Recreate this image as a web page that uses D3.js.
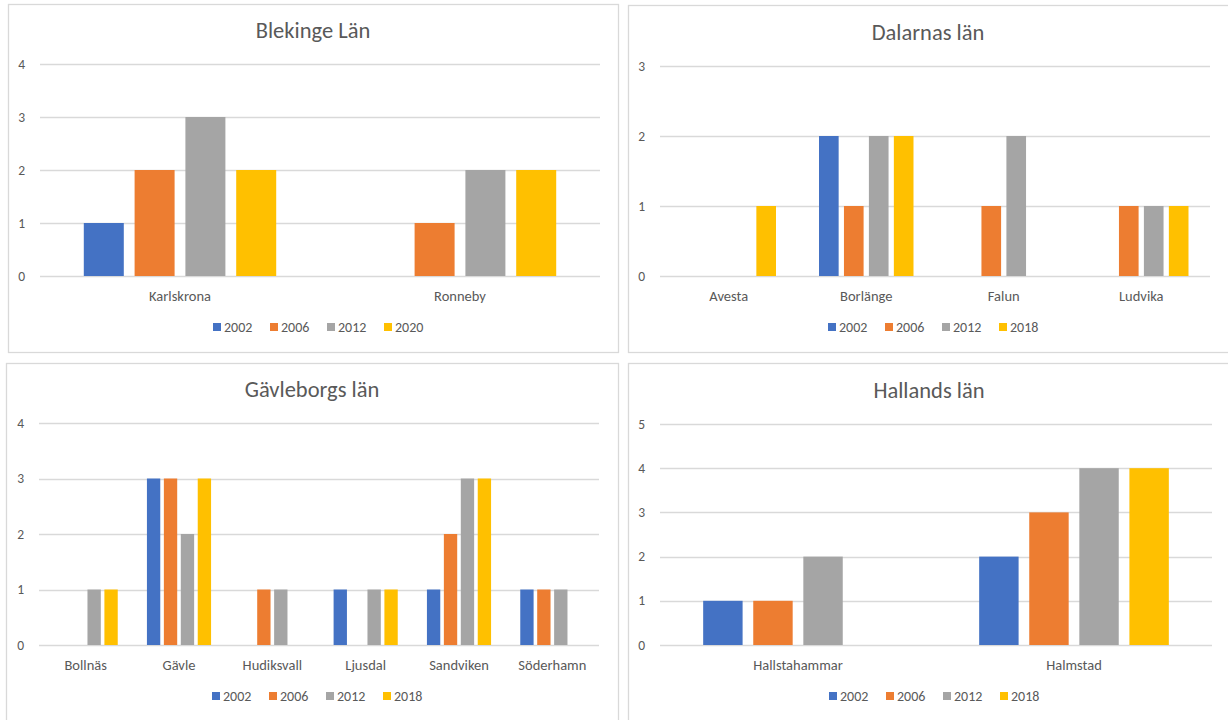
<!DOCTYPE html>
<html>
<head>
<meta charset="utf-8">
<script src="https://cdn.jsdelivr.net/npm/d3@7"></script>
<style>
  body { margin: 0; background: #fff; }
  svg { display: block; font-family: Carlito, Lato, "Open Sans", sans-serif; }
</style>
</head>
<body>
<svg id="chart" width="1228" height="720"></svg>
<script>
// colours used by every panel
var seriesColors = ["#4472C4", "#ED7D31", "#A5A5A5", "#FFC000"];

// Blekinge
var blekingeCities = ["Karlskrona", "Ronneby"];
var blekingeYears = ["2002", "2006", "2012", "2020"];
var blekingeValues = [[1, 2, 3, 2], [0, 1, 2, 2]];

// Dalarna
var dalarnaCities = ["Avesta", "Borlänge", "Falun", "Ludvika"];
var dalarnaYears = ["2002", "2006", "2012", "2018"];
var dalarnaValues = [[0, 0, 0, 1], [2, 1, 2, 2], [0, 1, 2, 0], [0, 1, 1, 1]];

// Gävleborg
var gavleCities = ["Bollnäs", "Gävle", "Hudiksvall", "Ljusdal", "Sandviken", "Söderhamn"];
var gavleYears = ["2002", "2006", "2012", "2018"];
var gavleValues = [[0, 0, 1, 1], [3, 3, 2, 3], [0, 1, 1, 0], [1, 0, 1, 1], [1, 2, 3, 3], [1, 1, 1, 0]];

// Halland
var hallandCities = ["Hallstahammar", "Halmstad"];
var hallandYears = ["2002", "2006", "2012", "2018"];
var hallandValues = [[1, 1, 2, 0], [2, 3, 4, 4]];

var svg = d3.select("#chart");
var textColor = "#595959", gridColor = "#D9D9D9";

function drawPanel(p) {
  var g = svg.append("g");

  // frame
  g.append("rect")
    .attr("x", p.box[0] + 0.5).attr("y", p.box[1] + 0.5)
    .attr("width", p.box[2] - p.box[0]).attr("height", p.box[3] - p.box[1])
    .attr("fill", "#fff").attr("stroke", gridColor).attr("stroke-width", 1.3);

  var x0 = d3.scaleBand().domain(p.cities).range([p.left, p.right]);
  var x1 = d3.scaleBand().domain(p.years).range([0, x0.bandwidth()])
    .paddingInner(0.2126).paddingOuter(0.862);
  var y = d3.scaleLinear().domain([0, p.yMax]).range([p.zero, p.top]);

  // title
  g.append("text")
    .attr("x", (p.left + p.right) / 2 - 7).attr("y", p.top - 26)
    .attr("text-anchor", "middle").attr("fill", textColor)
    .attr("font-size", 22.5).text(p.title);

  // grid + y labels
  var ticks = d3.range(0, p.yMax + 1);
  g.selectAll(".grid").data(ticks).enter().append("line")
    .attr("x1", p.left).attr("x2", p.right)
    .attr("y1", function (d) { return Math.round(y(d)) + 0.5; })
    .attr("y2", function (d) { return Math.round(y(d)) + 0.5; })
    .attr("stroke", gridColor).attr("stroke-width", 1.3);
  g.selectAll(".ylab").data(ticks).enter().append("text")
    .attr("x", p.left - 15).attr("y", function (d) { return y(d) + 4.5; })
    .attr("text-anchor", "end").attr("fill", textColor)
    .attr("font-size", 13.5).text(function (d) { return d; });

  // bars
  var groups = g.selectAll(".city").data(p.cities).enter().append("g")
    .attr("transform", function (d) { return "translate(" + x0(d) + ",0)"; });
  groups.selectAll("rect").data(function (d, i) {
      return p.values[i].map(function (v, j) { return { year: p.years[j], v: v, j: j }; });
    }).enter().append("rect")
    .filter(function (d) { return d.v > 0; })
    .attr("x", function (d) { return x1(d.year); })
    .attr("width", x1.bandwidth())
    .attr("y", function (d) { return y(d.v); })
    .attr("height", function (d) { return y(0) - y(d.v); })
    .attr("fill", function (d) { return seriesColors[d.j]; });

  // category labels
  g.selectAll(".xlab").data(p.cities).enter().append("text")
    .attr("x", function (d) { return x0(d) + x0.bandwidth() / 2; })
    .attr("y", p.zero + 25)
    .attr("text-anchor", "middle").attr("fill", textColor)
    .attr("font-size", 14.5).text(function (d) { return d; });

  // legend
  var itemW = 57;
  var cx = (p.left + p.right) / 2;
  var lx = cx - (itemW * p.years.length - 14) / 2;
  var leg = g.selectAll(".leg").data(p.years).enter().append("g")
    .attr("transform", function (d, i) { return "translate(" + (lx + i * itemW) + "," + (p.zero + 51) + ")"; });
  leg.append("rect").attr("x", 0).attr("y", -4).attr("width", 8).attr("height", 8)
    .attr("fill", function (d, i) { return seriesColors[i]; });
  leg.append("text").attr("x", 11).attr("y", 5).attr("fill", textColor)
    .attr("font-size", 14).text(function (d) { return d; });
}

drawPanel({ title: "Blekinge Län", cities: blekingeCities, years: blekingeYears, values: blekingeValues,
  box: [8, 4, 618, 352], left: 40, right: 600, top: 64, zero: 276, yMax: 4 });
drawPanel({ title: "Dalarnas län", cities: dalarnaCities, years: dalarnaYears, values: dalarnaValues,
  box: [628, 5, 1240, 352], left: 660, right: 1210, top: 66, zero: 276, yMax: 3 });
drawPanel({ title: "Gävleborgs län", cities: gavleCities, years: gavleYears, values: gavleValues,
  box: [6, 363, 618, 730], left: 39, right: 599, top: 423, zero: 645, yMax: 4 });
drawPanel({ title: "Hallands län", cities: hallandCities, years: hallandYears, values: hallandValues,
  box: [628, 363, 1240, 730], left: 660, right: 1212, top: 424, zero: 645, yMax: 5 });
</script>
</body>
</html>
